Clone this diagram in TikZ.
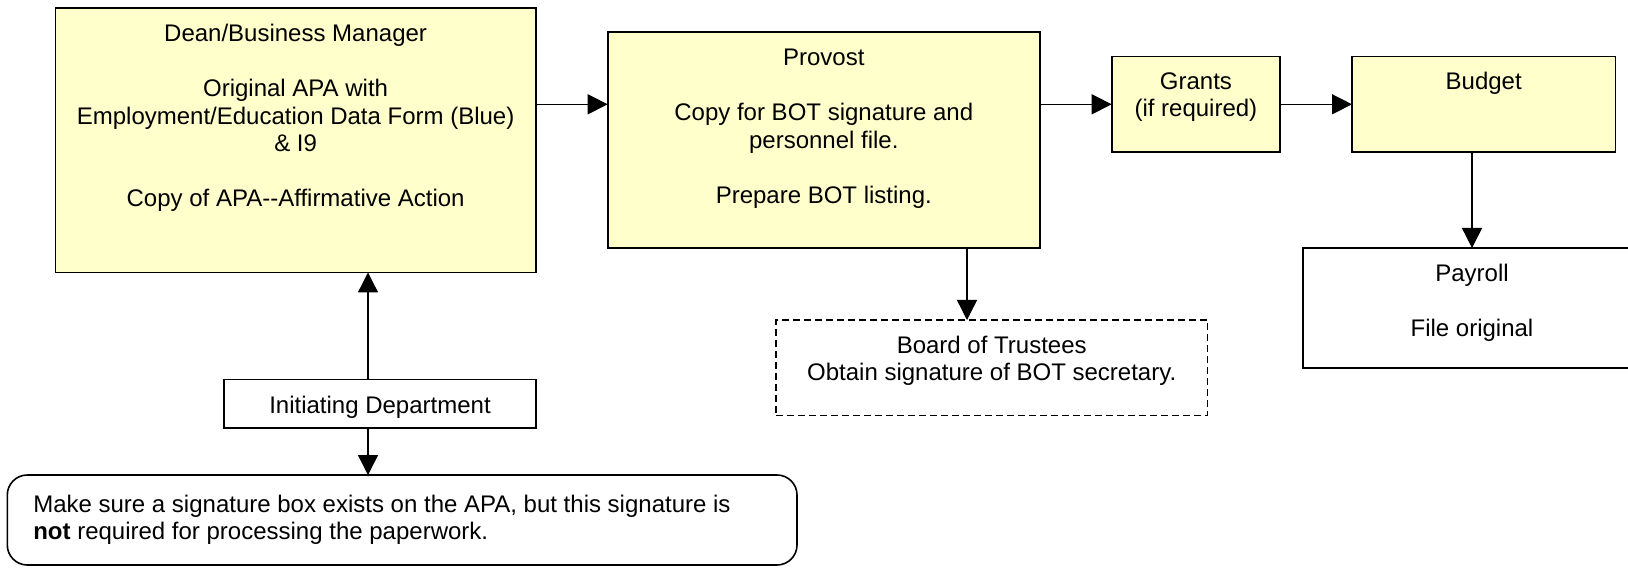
\documentclass[tikz,border=0pt]{standalone}
\usepackage{fontspec}
\setmainfont{Liberation Sans}
\usetikzlibrary{arrows.meta}
\definecolor{boxyellow}{RGB}{255,255,204}
\begin{document}
\begin{tikzpicture}[x=1pt,y=-1pt,
  box/.style={draw=black, line width=1.6pt, rectangle, anchor=north west, inner sep=0pt, outer sep=0pt},
  ybox/.style={box, fill=boxyellow},
  wbox/.style={box, fill=white},
  dbox/.style={box, fill=white, line width=1.4pt, dash pattern=on 7pt off 4pt},
  nbox/.style={box, fill=white, rounded corners=20pt},
  txt/.style={anchor=north, inner sep=0pt, outer sep=0pt, align=center, font=\fontsize{24}{27.5}\selectfont},
  ltxt/.style={anchor=north west, inner sep=0pt, outer sep=0pt, align=left, font=\fontsize{24}{27.5}\selectfont},
  arr/.style={line width=1.4pt, -{Triangle[length=20pt,width=20pt]}},
]
\path[use as bounding box, clip] (0,0) rectangle (1628,569);
\fill[white] (0,0) rectangle (1628,569);

% boxes
\node[ybox, minimum width=480.3pt, minimum height=264.2pt] (dean) at (55.5,8.3) {};
\node[ybox, minimum width=432.3pt, minimum height=216pt] (provost) at (607.7,32.3) {};
\node[ybox, minimum width=168.3pt, minimum height=95.5pt] (grants) at (1111.7,56.5) {};
\node[ybox, minimum width=263.5pt, minimum height=95.5pt] (budget) at (1352,56.5) {};
\node[wbox, minimum width=338pt, minimum height=120pt] (payroll) at (1303,248) {};
\node[dbox, minimum width=431.9pt, minimum height=95.5pt] (bot) at (775.8,320) {};
\node[wbox, minimum width=312.5pt, minimum height=48.4pt] (init) at (223.7,379.3) {};
\node[nbox, minimum width=789.7pt, minimum height=90pt] (note) at (7.3,475) {};

% texts
\node[txt] (deant) at (295.6,22.45) {\strut Dean/Business Manager\\[27.5pt]Original APA with\\Employment/Education Data Form (Blue)\\\& I9\\[27.5pt]Copy of APA-{}-Affirmative Action};
\node[txt] (provostt) at (823.8,46.5) {\strut Provost\\[27.5pt]Copy for BOT signature and\\personnel file.\\[27.5pt]Prepare BOT listing.};
\node[txt] (grantst) at (1195.9,70.2) {\strut Grants\\(if required)};
\node[txt] (budgett) at (1483.7,70.5) {\strut Budget};
\node[txt] (payrollt) at (1472,262.2) {\strut Payroll\\[27.5pt]File original};
\node[txt] (bott) at (991.7,334.2) {\strut Board of Trustees\\Obtain signature of BOT secretary.};
\node[txt] (initt) at (380,393.75) {\strut Initiating Department};
\node[ltxt] (notet) at (33.3,492.75) {\strut Make sure a signature box exists on the APA, but this signature is\\\textbf{not} required for processing the paperwork.};

% connectors
\coordinate (rowy) at (0,104.3);
\coordinate (botx) at (967,0);
\coordinate (initx) at (368,0);
\draw[arr] (dean.east |- rowy) -- (provost.west |- rowy);
\draw[arr] (provost.east |- rowy) -- (grants.west |- rowy);
\draw[arr] (grants.east |- rowy) -- (budget.west |- rowy);
\draw[arr] (budget.south -| payroll.north) -- (payroll.north);
\draw[arr] (provost.south -| botx) -- (bot.north -| botx);
\draw[arr] (init.north -| initx) -- (dean.south -| initx);
\draw[arr] (init.south -| initx) -- (note.north -| initx);
\end{tikzpicture}
\end{document}
